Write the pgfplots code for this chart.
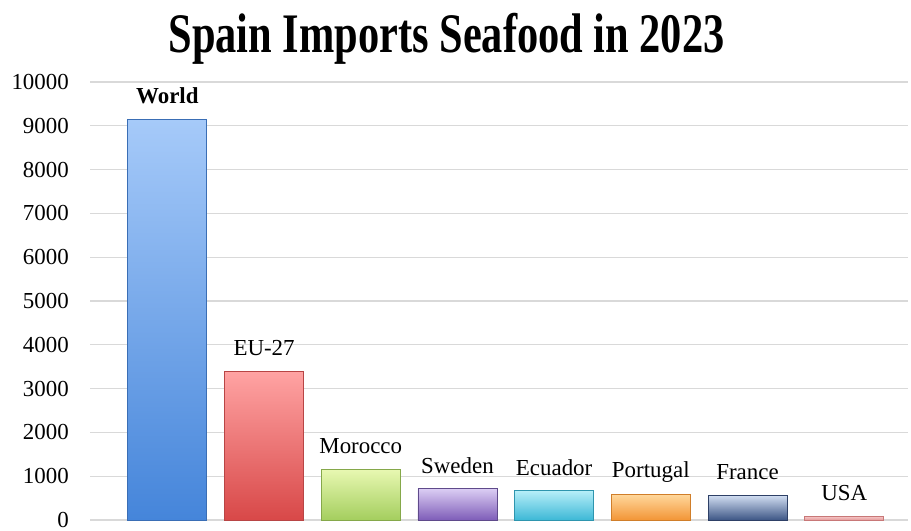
\documentclass[border=0pt]{standalone}
\usepackage{fontspec}
\setmainfont{Liberation Serif}
\usepackage{pgfplots}
\pgfplotsset{compat=1.18}
\definecolor{gridc}{HTML}{D9D9D9}
\definecolor{c1t}{HTML}{A6CAF9}\definecolor{c1b}{HTML}{4585DA}\definecolor{c1d}{HTML}{3A6EB5}
\definecolor{c2t}{HTML}{FFA3A3}\definecolor{c2b}{HTML}{D84848}\definecolor{c2d}{HTML}{B84545}
\definecolor{c3t}{HTML}{E8F8B2}\definecolor{c3b}{HTML}{A4CE5E}\definecolor{c3d}{HTML}{85A84A}
\definecolor{c4t}{HTML}{DCCEF4}\definecolor{c4b}{HTML}{7E5DB8}\definecolor{c4d}{HTML}{5F4A8B}
\definecolor{c5t}{HTML}{B8EFF9}\definecolor{c5b}{HTML}{3DB8D6}\definecolor{c5d}{HTML}{2E95AE}
\definecolor{c6t}{HTML}{FFD79B}\definecolor{c6b}{HTML}{F29536}\definecolor{c6d}{HTML}{D07E2A}
\definecolor{c7t}{HTML}{D2DEF2}\definecolor{c7b}{HTML}{3D5685}\definecolor{c7d}{HTML}{2E4066}
\definecolor{c8t}{HTML}{F6C4C4}\definecolor{c8b}{HTML}{E49A9A}\definecolor{c8d}{HTML}{C87878}
\pgfplotsset{
  mybar/.style={ybar, bar width=79bp, bar shift=0pt,
    top color=c#1t, bottom color=c#1b, draw=c#1d, line width=0.8bp},
}
\begin{document}
\begin{tikzpicture}[x=1bp,y=1bp]
\path[use as bounding box] (0,0) rectangle (911,531);
\begin{axis}[at={(90bp,11bp)}, anchor=south west,
  width=818bp, height=438bp, scale only axis,
  xmin=-0.8, xmax=7.66, ymin=0, ymax=10000,
  axis line style={draw=none},
  ytick={0,1000,...,10000},
  xtick=\empty,
  ymajorgrids, grid style={gridc, line width=1.3bp},
  major tick length=0pt,
  yticklabel style={font=\fontsize{23}{26}\selectfont, inner xsep=0pt, xshift=-21bp},
  /pgf/number format/assume math mode=true,
  /pgf/number format/set thousands separator={},
  scaled y ticks=false,
  nodes near coords style={font=\fontsize{23}{26}\selectfont, anchor=center, yshift=23bp, text=black},
  clip=false,
]
\addplot[mybar=1, nodes near coords={\textbf{World}}] coordinates {(0,9150)};
\addplot[mybar=2, nodes near coords={EU-27}] coordinates {(1,3390)};
\addplot[mybar=3, nodes near coords={Morocco}] coordinates {(2,1160)};
\addplot[mybar=4, nodes near coords={Sweden}] coordinates {(3,720)};
\addplot[mybar=5, nodes near coords={Ecuador}] coordinates {(4,680)};
\addplot[mybar=6, nodes near coords={Portugal}] coordinates {(5,580)};
\addplot[mybar=7, nodes near coords={France}] coordinates {(6,565)};
\addplot[mybar=8, nodes near coords={USA}] coordinates {(7,80)};
\end{axis}
\node[font=\fontsize{56}{62}\selectfont\bfseries, anchor=base, xscale=0.76, transform shape] at (446.5,478.5) {Spain Imports Seafood in 2023};
\end{tikzpicture}
\end{document}
